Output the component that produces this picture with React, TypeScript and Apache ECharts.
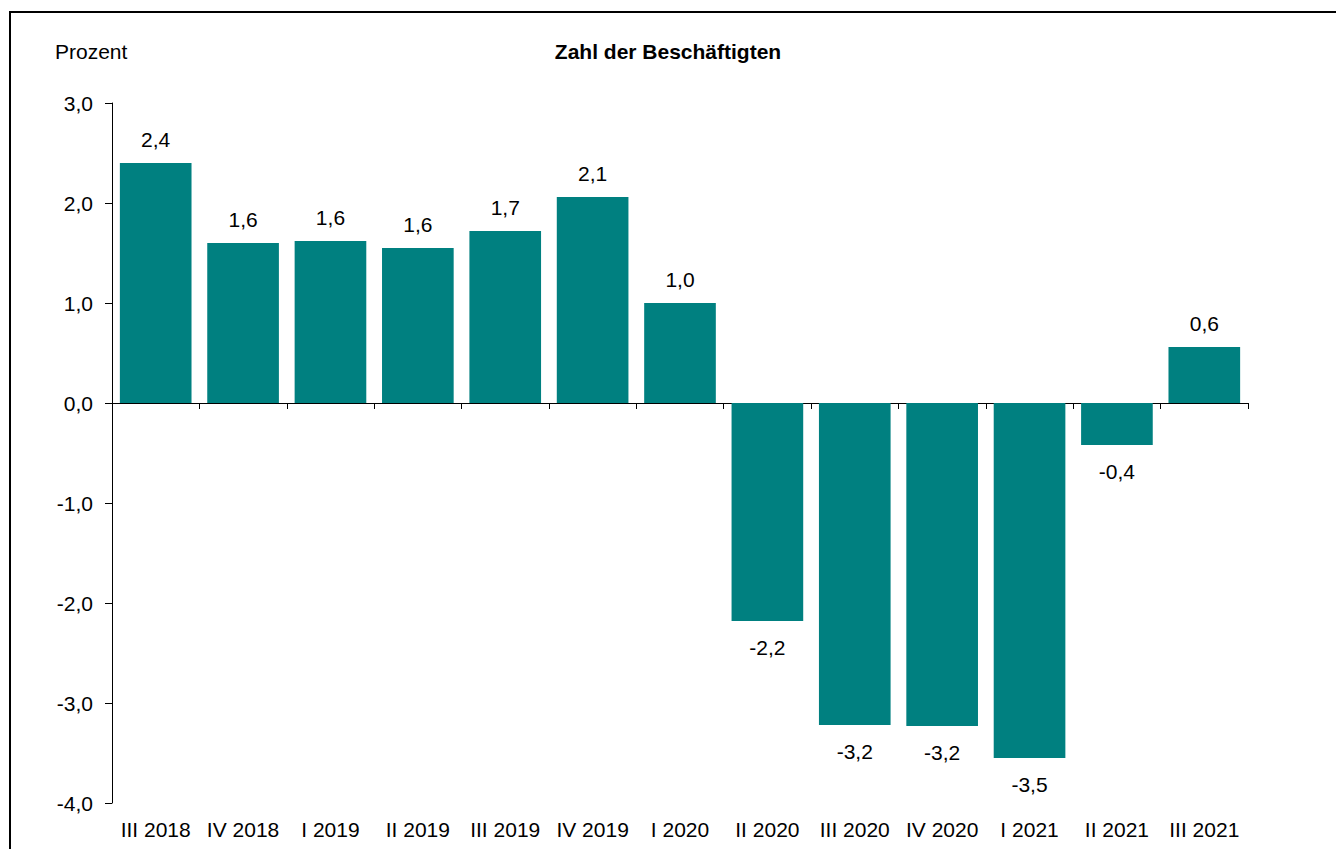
import React, { useEffect, useRef } from "react";
import * as echarts from "echarts";

const categories = [
  "III 2018", "IV 2018", "I 2019", "II 2019", "III 2019", "IV 2019", "I 2020",
  "II 2020", "III 2020", "IV 2020", "I 2021", "II 2021", "III 2021",
];
const values = [2.4, 1.6, 1.62, 1.55, 1.72, 2.06, 1.0, -2.18, -3.22, -3.23, -3.55, -0.42, 0.56];
const labels = ["2,4", "1,6", "1,6", "1,6", "1,7", "2,1", "1,0", "-2,2", "-3,2", "-3,2", "-3,5", "-0,4", "0,6"];
const title = "Zahl der Beschäftigten";
const unitLabel = "Prozent";

const FONT = "Liberation Sans, Arial, sans-serif";
const FS = 21;

export default function App() {
  const ref = useRef<HTMLDivElement>(null);
  useEffect(() => {
    if (!ref.current) return;
    const chart = echarts.init(ref.current, undefined, { renderer: "svg" });
    const fmt = (v: number) => v.toFixed(1).replace(".", ",");
    chart.setOption({
      animation: false,
      backgroundColor: "#ffffff",
      textStyle: { fontFamily: FONT },
      title: {
        text: title,
        left: "center",
        top: 36,
        textStyle: { fontFamily: FONT, fontSize: FS, fontWeight: "bold", color: "#000" },
      },
      graphic: [
        {
          type: "rect",
          shape: { x: 10, y: 12, width: 1400, height: 900 },
          style: { fill: "none", stroke: "#000", lineWidth: 2 },
          silent: true,
        },
        {
          type: "text",
          left: 55,
          top: 41,
          style: { text: unitLabel, fontFamily: FONT, fontSize: FS, fill: "#000" },
        },
      ],
      grid: { left: 112, right: 88, top: 103, bottom: 46, containLabel: false },
      xAxis: [
        {
          type: "category",
          data: categories,
          axisLine: { onZero: true, lineStyle: { color: "#000", width: 1 } },
          axisTick: { show: true, alignWithLabel: false, length: 6, lineStyle: { color: "#000" } },
          axisLabel: { show: false },
          splitLine: { show: false },
        },
        {
          type: "category",
          data: categories,
          position: "bottom",
          axisLine: { show: false, onZero: false },
          axisTick: { show: false },
          axisLabel: { show: true, margin: 16, fontFamily: FONT, fontSize: FS, color: "#000", interval: 0 },
          splitLine: { show: false },
        },
      ],
      yAxis: {
        type: "value",
        min: -4,
        max: 3,
        interval: 1,
        axisLine: { show: true, lineStyle: { color: "#000", width: 1 } },
        axisTick: { show: true, length: 7, inside: false, lineStyle: { color: "#000" } },
        axisLabel: { margin: 19, fontFamily: FONT, fontSize: FS, color: "#000", formatter: fmt },
        splitLine: { show: false },
      },
      series: [
        {
          type: "bar",
          xAxisIndex: 0,
          data: values.map((v, i) => ({
            value: v,
            label: {
              show: true,
              position: v >= 0 ? "top" : "bottom",
              distance: v >= 0 ? 13 : 16,
              formatter: () => labels[i],
              fontFamily: FONT,
              fontSize: FS,
              color: "#000",
            },
          })),
          barWidth: "82%",
          itemStyle: { color: "#008080" },
        },
      ],
    });
    return () => chart.dispose();
  }, []);
  return (
    <div
      ref={ref}
      style={{ position: "fixed", left: 0, top: 0, width: 1336, height: 849 }}
    />
  );
}
